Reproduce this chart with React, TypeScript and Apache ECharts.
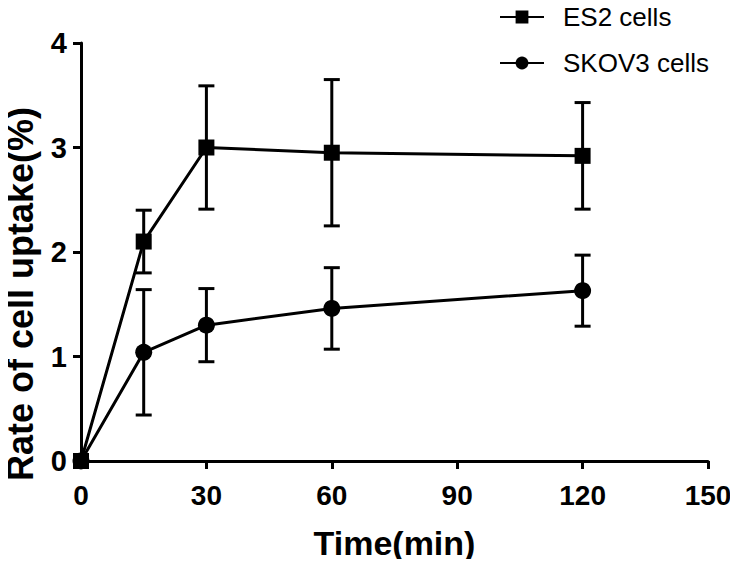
import React, { useEffect, useRef } from "react";
import * as echarts from "echarts";

const times = [0, 15, 30, 60, 120];
const es2Mean = [0, 2.1, 3.0, 2.95, 2.92];
const es2Err = [0, 0.3, 0.59, 0.7, 0.51];
const skovMean = [0, 1.04, 1.3, 1.46, 1.63];
const skovErr = [0, 0.6, 0.35, 0.39, 0.34];
const seriesNames = ["ES2 cells", "SKOV3 cells"];

const FONT = "'Liberation Sans', Arial, sans-serif";

function errData(mean: number[], err: number[]) {
  return times
    .map((t, i) => [t, mean[i] - err[i], mean[i] + err[i]])
    .filter((d, i) => err[i] > 0);
}

function errSeries(mean: number[], err: number[]) {
  return {
    type: "custom",
    silent: true,
    z: 1,
    data: errData(mean, err),
    renderItem: (params: any, api: any) => {
      const x = api.value(0);
      const lo = api.coord([x, api.value(1)]);
      const hi = api.coord([x, api.value(2)]);
      const hw = 8;
      const style = { stroke: "#000", lineWidth: 3 };
      return {
        type: "group",
        children: [
          { type: "line", shape: { x1: lo[0], y1: lo[1], x2: hi[0], y2: hi[1] }, style },
          { type: "line", shape: { x1: lo[0] - hw, y1: lo[1], x2: lo[0] + hw, y2: lo[1] }, style },
          { type: "line", shape: { x1: hi[0] - hw, y1: hi[1], x2: hi[0] + hw, y2: hi[1] }, style },
        ],
      };
    },
  };
}

export default function App() {
  const ref = useRef<HTMLDivElement>(null);
  useEffect(() => {
    const chart = echarts.init(ref.current!, null, { renderer: "svg" });
    chart.setOption({
      animation: false,
      textStyle: { fontFamily: FONT },
      grid: { left: 81, top: 43, right: 30, bottom: 106, containLabel: false, outerBoundsMode: "none" },
      legend: {
        orient: "vertical",
        left: 494,
        top: -1,
        itemWidth: 44,
        itemHeight: 16,
        itemGap: 20,
        textStyle: { fontSize: 26, color: "#000", fontFamily: FONT, padding: [0, 0, 0, 14] },
        data: seriesNames,
      },
      xAxis: {
        type: "value",
        min: 0,
        max: 150,
        interval: 30,
        name: "Time(min)",
        nameLocation: "middle",
        nameGap: 65,
        nameTextStyle: { fontSize: 34, fontWeight: "bold", color: "#000", fontFamily: FONT },
        axisLine: { lineStyle: { color: "#000", width: 3 } },
        axisTick: { lineStyle: { color: "#000", width: 3 }, length: 8 },
        axisLabel: { fontSize: 28, fontWeight: "bold", color: "#000", margin: 20, fontFamily: FONT },
        splitLine: { show: false },
      },
      yAxis: {
        type: "value",
        min: 0,
        max: 4,
        interval: 1,
        name: "Rate of cell uptake(%)",
        nameLocation: "middle",
        nameGap: 43,
        nameTextStyle: {
          fontSize: 36,
          fontWeight: "bold",
          color: "#000",
          fontFamily: FONT,
          padding: [0, 84, 0, 0],
        },
        axisLine: { show: true, lineStyle: { color: "#000", width: 3 } },
        axisTick: { show: true, lineStyle: { color: "#000", width: 3 }, length: 8 },
        axisLabel: { fontSize: 29, fontWeight: "bold", color: "#000", margin: 14, fontFamily: FONT },
        splitLine: { show: false },
      },
      series: [
        errSeries(es2Mean, es2Err),
        errSeries(skovMean, skovErr),
        {
          name: seriesNames[1],
          type: "line",
          data: times.map((t, i) => [t, skovMean[i]]),
          symbol: "circle",
          symbolSize: 17,
          lineStyle: { color: "#000", width: 3 },
          itemStyle: { color: "#000" },
          z: 3,
        },
        {
          name: seriesNames[0],
          type: "line",
          data: times.map((t, i) => [t, es2Mean[i]]),
          symbol: "rect",
          symbolSize: 16,
          lineStyle: { color: "#000", width: 3 },
          itemStyle: { color: "#000" },
          z: 4,
        },
      ],
    });
    return () => chart.dispose();
  }, []);
  return <div ref={ref} style={{ width: 738, height: 567, margin: -8 }} />;
}
